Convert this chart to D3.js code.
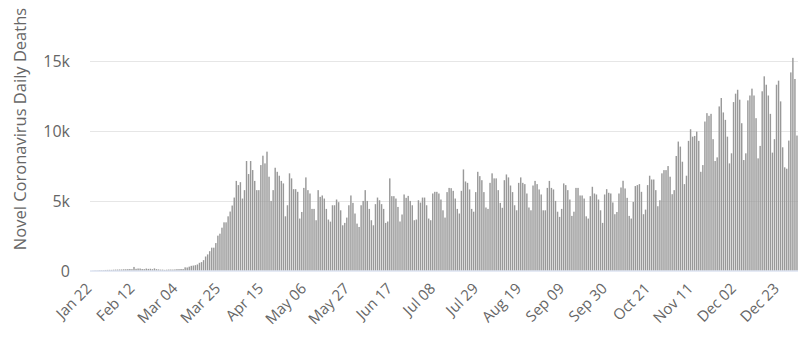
<!DOCTYPE html>
<html><head><meta charset="utf-8">
<script src="https://cdn.jsdelivr.net/npm/d3@7"></script>
<style>body{margin:0;background:#fff}svg{display:block}</style>
</head><body>
<svg id="chart" width="812" height="339"></svg>
<script>
// ---- data (daily deaths) ----
const startDate = "2020-01-22";
const jan = [0, 8, 16, 15, 24, 26, 26, 38, 43, 46];
const feb = [45, 57, 64, 66, 72, 73, 86, 89, 97, 108, 97, 254, 121, 143, 142, 106, 98, 139, 115, 125, 96, 150, 98, 79, 63, 62, 45, 58, 68];
const mar = [70, 67, 77, 96, 98, 108, 103, 226, 215, 275, 333, 353, 380, 433, 550, 600, 740, 1000, 1150, 1380, 1630, 1630, 1960, 2490, 2630, 3060, 3440, 3440, 3870, 4210, 4640];
const apr = [5210, 6400, 6100, 6310, 5140, 5740, 7820, 6890, 7820, 7174, 6400, 5740, 5740, 7530, 8200, 7650, 8490, 6700, 4970, 5740, 7340, 7050, 6770, 6400, 6220, 3870, 4660, 6940, 6580, 5810];
const may = [5810, 5620, 3710, 4180, 5900, 6650, 5740, 5500, 4400, 4400, 3590, 5740, 5260, 5360, 5140, 4400, 3640, 3490, 4660, 4660, 5070, 4880, 4300, 3230, 3400, 3780, 4660, 5360, 4830, 4070, 3350];
const jun = [3110, 4660, 4970, 5740, 4970, 4400, 3590, 3230, 4740, 5210, 5020, 4740, 4400, 3400, 3500, 6580, 5310, 5310, 5140, 4540, 3500, 4000, 5430, 5190, 5330, 4970, 4660, 3590, 3640, 5020];
const jul = [4850, 5210, 5210, 4660, 3710, 3590, 5500, 5620, 5620, 5500, 5070, 4300, 3780, 5600, 5900, 5880, 5690, 5140, 4400, 4070, 5690, 7220, 6360, 6260, 5790, 4400, 4200, 5600, 7050, 6740, 6450];
const aug = [5600, 4500, 4400, 6260, 6940, 6580, 6580, 5740, 4830, 4480, 6450, 6860, 6650, 6070, 5600, 4660, 4300, 6260, 6650, 6260, 6170, 5500, 4500, 4300, 6070, 6400, 6170, 5790, 5430, 4300, 4300];
const sep = [5900, 6400, 5900, 5790, 4970, 4200, 3830, 4400, 6220, 6100, 5740, 5070, 3900, 4200, 5900, 5900, 5360, 5360, 5140, 3870, 3710, 5310, 5980, 5500, 5430, 5070, 4300, 3400, 5430, 5810];
const oct = [5550, 5500, 4860, 4020, 4180, 5500, 5930, 6410, 5860, 5190, 3900, 3710, 4900, 6030, 6100, 6170, 5620, 4020, 4350, 6100, 6770, 6500, 6500, 5740, 4590, 5020, 6940, 7170, 7170, 7460, 6700];
const nov = [5450, 5740, 8180, 9210, 8850, 7770, 6170, 6770, 9260, 10090, 9560, 9610, 9920, 9260, 7050, 7530, 10640, 11240, 11050, 11190, 9380, 7820, 8080, 11720, 12320, 11290, 10760, 9560, 7650, 8370];
const dec = [12030, 12630, 12910, 12200, 10520, 7890, 8370, 12150, 12500, 12990, 12500, 10880, 8010, 8900, 12800, 13870, 13270, 12500, 11190, 8420, 9380, 13270, 13560, 12080, 8800, 7370, 7270, 9280, 14150, 15190, 13680];
const jan2021 = [9640];

const yTickValues = [0, 5000, 10000, 15000];
const yTickLabels = ["0", "5k", "10k", "15k"];
const xTickLabels = ["Jan 22", "Feb 12", "Mar 04", "Mar 25", "Apr 15", "May 06", "May 27", "Jun 17", "Jul 08", "Jul 29", "Aug 19", "Sep 09", "Sep 30", "Oct 21", "Nov 11", "Dec 02", "Dec 23"];
const tickEvery = 21;
const yTitle = "Novel Coronavirus Daily Deaths";

// ---- build ----
const values = [].concat(jan, feb, mar, apr, may, jun, jul, aug, sep, oct, nov, dec, jan2021);
const start = d3.timeParse("%Y-%m-%d")(startDate);
const fmt = d3.timeFormat("%Y-%m-%d");
const categories = values.map((v, i) => fmt(d3.timeDay.offset(start, i)));
const data = categories.map((c, i) => ({c, v: values[i]}));

const svg = d3.select("#chart");
const FONT = "'Open Sans', 'DejaVu Sans', sans-serif";
const plotLeft = 90, plotRight = 798, plotBottom = 270.5, plotTop = 60.5;

const x = d3.scaleBand().domain(categories).range([plotLeft, plotRight]).paddingInner(0.3).paddingOuter(0.15);
const y = d3.scaleLinear().domain([0, 15000]).range([plotBottom, plotTop]);

// gridlines
svg.append("g").selectAll("line").data(yTickValues.filter(v => v > 0)).join("line")
  .attr("x1", plotLeft).attr("x2", plotRight)
  .attr("y1", d => Math.round(y(d)) + 0.5).attr("y2", d => Math.round(y(d)) + 0.5)
  .attr("stroke", "#e6e6e6").attr("stroke-width", 1);

// bars
svg.append("g").selectAll("rect").data(data).join("rect")
  .attr("x", d => x(d.c))
  .attr("width", x.bandwidth())
  .attr("y", d => y(d.v))
  .attr("height", d => Math.max(0, plotBottom - y(d.v)))
  .attr("fill", "#999999");

// x axis line
svg.append("line").attr("x1", plotLeft).attr("x2", plotRight)
  .attr("y1", plotBottom + 0.5).attr("y2", plotBottom + 0.5)
  .attr("stroke", "#ccd6eb").attr("stroke-width", 1);

// y axis
const yAxis = d3.axisLeft(y).tickValues(yTickValues).tickSize(0).tickPadding(0)
  .tickFormat((d, i) => yTickLabels[i]);
const gy = svg.append("g").attr("transform", "translate(70,0)").call(yAxis);
gy.select(".domain").remove();
gy.selectAll("text").attr("fill", "#666666").attr("font-size", "16px").attr("font-family", FONT).attr("dy", "0.35em");

// x axis labels
const xTickCats = categories.filter((c, i) => i % tickEvery === 0);
const xAxis = d3.axisBottom(x).tickValues(xTickCats).tickSize(0)
  .tickFormat((d, i) => xTickLabels[i]);
const gx = svg.append("g").attr("transform", `translate(0,${plotBottom})`).call(xAxis);
gx.select(".domain").remove();
gx.selectAll("text")
  .attr("fill", "#666666").attr("font-size", "15px").attr("font-family", FONT)
  .attr("text-anchor", "end").attr("x", 0).attr("y", 0).attr("dy", 0)
  .attr("transform", "translate(1.5,19) rotate(-45)");

// y title
svg.append("text")
  .attr("transform", "translate(25.5,129) rotate(-90)")
  .attr("text-anchor", "middle")
  .attr("fill", "#666666").attr("font-size", "16.5px").attr("font-family", FONT)
  .text(yTitle);
</script>
</body></html>
